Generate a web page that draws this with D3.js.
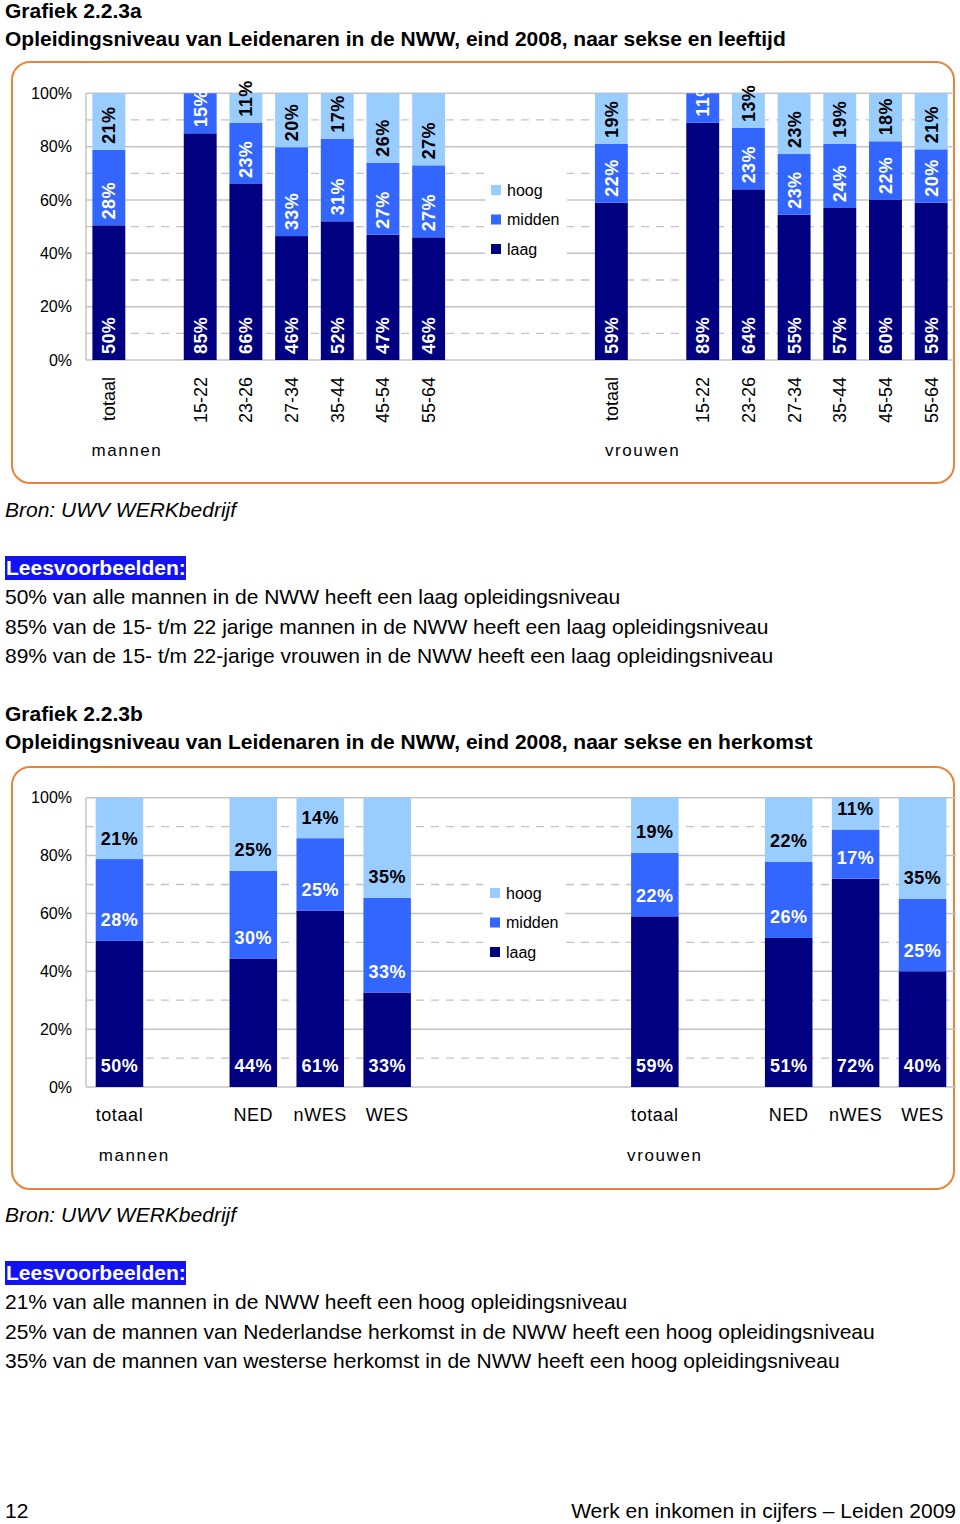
<!DOCTYPE html>
<html><head><meta charset="utf-8">
<script src="https://cdn.jsdelivr.net/npm/d3@7/dist/d3.min.js"></script>
<style>
body{margin:0;background:#fff}
svg{display:block}
text{font-family:"Liberation Sans",Arial,Helvetica,sans-serif}
</style>
</head><body>
<svg id="page" width="960" height="1524"></svg>
<script>
// ---------------- DATA ----------------
const levels = ["laag", "midden", "hoog"];
const legendOrder = ["hoog", "midden", "laag"];
const groups = ["mannen", "vrouwen"];

// Grafiek 2.2.3a : leeftijd
const ageCategories = ["totaal", "15-22", "23-26", "27-34", "35-44", "45-54", "55-64"];
const menLaagA    = [50, 85, 66, 46, 52, 47, 46];
const menMiddenA  = [28, 15, 23, 33, 31, 27, 27];
const menHoogA    = [21,  0, 11, 20, 17, 26, 27];
const womenLaagA   = [59, 89, 64, 55, 57, 60, 59];
const womenMiddenA = [22, 11, 23, 23, 24, 22, 20];
const womenHoogA   = [19,  0, 13, 23, 19, 18, 21];

// Grafiek 2.2.3b : herkomst
const originCategories = ["totaal", "NED", "nWES", "WES"];
const menLaagB    = [50, 44, 61, 33];
const menMiddenB  = [28, 30, 25, 33];
const menHoogB    = [21, 25, 14, 35];
const womenLaagB   = [59, 51, 72, 40];
const womenMiddenB = [22, 26, 17, 25];
const womenHoogB   = [19, 22, 11, 35];

const yTickValues = [0, 20, 40, 60, 80, 100];
const yTickLabels = ["0%", "20%", "40%", "60%", "80%", "100%"];
const yMinorValues = [10, 30, 50, 70, 90];

const titlesA = ["Grafiek 2.2.3a", "Opleidingsniveau van Leidenaren in de NWW, eind 2008, naar sekse en leeftijd"];
const titlesB = ["Grafiek 2.2.3b", "Opleidingsniveau van Leidenaren in de NWW, eind 2008, naar sekse en herkomst"];
const sourceText = "Bron: UWV WERKbedrijf";
const exampleHeader = "Leesvoorbeelden:";
const examplesA = [
  "50% van alle mannen in de NWW heeft een laag opleidingsniveau",
  "85% van de 15- t/m 22 jarige mannen in de NWW heeft een laag opleidingsniveau",
  "89% van de 15- t/m 22-jarige vrouwen in de NWW heeft een laag opleidingsniveau"
];
const examplesB = [
  "21% van alle mannen in de NWW heeft een hoog opleidingsniveau",
  "25% van de mannen van Nederlandse herkomst in de NWW heeft een hoog opleidingsniveau",
  "35% van de mannen van westerse herkomst in de NWW heeft een hoog opleidingsniveau"
];
const footerLeft = "12";
const footerRight = "Werk en inkomen in cijfers \u2013 Leiden 2009";

// ---------------- STYLE ----------------
const colors = {laag: "#000080", midden: "#3366FF", hoog: "#99CCFF"};
const labelColors = {laag: "#ffffff", midden: "#ffffff", hoog: "#000000"};
const orange = "#E8833A";
const gridColor = "#C4C4C4";

const svg = d3.select("#page");
svg.append("rect").attr("width", 960).attr("height", 1524).attr("fill", "#fff");

function rows(cats, laag, midden, hoog) {
  return cats.map((c, i) => ({cat: c, laag: laag[i], midden: midden[i], hoog: hoog[i]}));
}

function drawChart(cfg) {
  const g = svg.append("g");
  // panel
  g.append("rect").attr("x", cfg.panel[0]).attr("y", cfg.panel[1])
    .attr("width", cfg.panel[2]).attr("height", cfg.panel[3])
    .attr("rx", 18).attr("ry", 18)
    .attr("fill", "none").attr("stroke", orange).attr("stroke-width", 2);

  // slot domain with gaps
  const domain = [];
  cfg.groupsData.forEach((gd, gi) => {
    gd.rows.forEach((r, i) => {
      domain.push(gd.name + "|" + r.cat);
      if (i === 0) domain.push("gap|" + gd.name + "|a");
    });
    if (gi < cfg.groupsData.length - 1) {
      for (let k = 0; k < cfg.midGaps; k++) domain.push("gap|mid|" + k);
    }
  });

  const x = d3.scaleBand().domain(domain).range([cfg.left, cfg.right])
    .paddingInner(cfg.padInner).paddingOuter(cfg.padInner / 2);
  const y = d3.scaleLinear().domain([0, 1]).range([cfg.bottom, cfg.top]);

  // gridlines
  g.append("g").selectAll("line").data(yMinorValues).join("line")
    .attr("x1", cfg.left).attr("x2", cfg.right)
    .attr("y1", d => y(d / 100)).attr("y2", d => y(d / 100))
    .attr("stroke", gridColor).attr("stroke-width", 1.3).attr("stroke-dasharray", "8,7");
  g.append("g").selectAll("line").data(yTickValues).join("line")
    .attr("x1", cfg.left).attr("x2", cfg.right)
    .attr("y1", d => y(d / 100)).attr("y2", d => y(d / 100))
    .attr("stroke", gridColor).attr("stroke-width", 1.5);
  g.append("line").attr("x1", cfg.left).attr("x2", cfg.left)
    .attr("y1", cfg.top).attr("y2", cfg.bottom)
    .attr("stroke", gridColor).attr("stroke-width", 1.5);

  // legend (white box hides gridlines)
  const lg = g.append("g");
  lg.append("rect").attr("x", cfg.legendBox[0]).attr("y", cfg.legendBox[1])
    .attr("width", cfg.legendBox[2]).attr("height", cfg.legendBox[3]).attr("fill", "#fff");
  legendOrder.forEach((lv, i) => {
    const cy = cfg.legendY + i * 29.5;
    lg.append("rect").attr("x", cfg.legendX).attr("y", cy - 5).attr("width", 10).attr("height", 10)
      .attr("fill", colors[lv]);
    lg.append("text").attr("x", cfg.legendX + 16).attr("y", cy).attr("dy", "0.35em")
      .attr("font-size", 16).attr("fill", "#000").text(lv);
  });

  // y axis labels
  const yAxis = d3.axisLeft(d3.scaleLinear().domain([0, 100]).range([cfg.bottom, cfg.top]))
    .tickValues(yTickValues).tickFormat((d, i) => yTickLabels[i]).tickSize(0).tickPadding(14);
  const ya = g.append("g").attr("transform", `translate(${cfg.left},0)`).call(yAxis);
  ya.select(".domain").remove();
  ya.selectAll("text").attr("font-size", 16).attr("fill", "#000")
    .attr("font-family", '"Liberation Sans",Arial,sans-serif');

  // clip for midden labels (plot area)
  const clipId = "clip" + cfg.id;
  svg.append("defs").append("clipPath").attr("id", clipId)
    .append("rect").attr("x", cfg.left).attr("y", cfg.top - 3.5)
    .attr("width", cfg.right - cfg.left).attr("height", cfg.bottom - cfg.top + 40);

  const stack = d3.stack().keys(levels).offset(d3.stackOffsetExpand);

  cfg.groupsData.forEach((gd, gi) => {
    const series = stack(gd.rows);
    const key = r => gd.name + "|" + r.cat;
    // bars
    series.forEach(s => {
      g.append("g").attr("fill", colors[s.key]).selectAll("rect").data(s).join("rect")
        .attr("x", d => x(key(d.data)))
        .attr("width", x.bandwidth())
        .attr("y", d => y(d[1]))
        .attr("height", d => Math.max(0, y(d[0]) - y(d[1])));
    });
    // labels
    series.forEach(s => {
      const lgp = g.append("g");
      if (s.key === "midden") lgp.attr("clip-path", `url(#${clipId})`);
      const items = s.filter(d => d.data[s.key] > 0);
      const t = lgp.selectAll("text").data(items).join("text")
        .attr("font-size", 18).attr("font-weight", "bold")
        .attr("fill", labelColors[s.key])
        .text(d => d.data[s.key] + "%");
      if (cfg.rotated) {
        t.attr("transform", d => `translate(${x(key(d.data)) + x.bandwidth() / 2},${y(d[0]) - 6}) rotate(-90)`)
          .attr("text-anchor", "start").attr("dy", "0.36em").attr("letter-spacing", 0.4);
      } else {
        t.attr("x", d => x(key(d.data)) + x.bandwidth() / 2)
          .attr("y", d => y(d[0]) - 21).attr("dy", "0.36em")
          .attr("text-anchor", "middle").attr("letter-spacing", 0.5);
      }
    });
    // category labels
    const xa = d3.axisBottom(x).tickValues(gd.rows.map(key))
      .tickFormat(k => k.split("|")[1]).tickSize(0).tickPadding(0);
    const xg = g.append("g").attr("transform", `translate(0,${cfg.bottom})`).call(xa);
    xg.select(".domain").remove();
    const xt = xg.selectAll("text").attr("font-size", 18).attr("fill", "#000")
      .attr("font-family", '"Liberation Sans",Arial,sans-serif');
    if (cfg.rotated) {
      xt.attr("transform", `translate(0,${cfg.catOffset}) rotate(-90)`)
        .attr("text-anchor", "end").attr("y", 0).attr("dy", "0.36em");
    } else {
      xt.attr("y", cfg.catOffset).attr("dy", "0.36em").attr("letter-spacing", 0.6);
    }
    // group label
    g.append("text").attr("x", x(key(gd.rows[0])) + cfg.groupShift[gi])
      .attr("y", cfg.groupY).attr("dy", "0.36em")
      .attr("font-size", 17).attr("letter-spacing", 1.6).attr("fill", "#000")
      .text(gd.name);
  });
}

function textBlock(titles, titleY, srcY, exY, examples) {
  svg.append("text").attr("x", 5).attr("y", titleY).attr("font-size", 21).attr("font-weight", "bold").text(titles[0]);
  svg.append("text").attr("x", 5).attr("y", titleY + 28).attr("font-size", 21).attr("font-weight", "bold").text(titles[1]);
  svg.append("text").attr("x", 5).attr("y", srcY).attr("font-size", 21).attr("font-style", "italic").text(sourceText);
  svg.append("rect").attr("x", 5).attr("y", exY - 19).attr("width", 181).attr("height", 24).attr("fill", "#1212F2");
  svg.append("text").attr("x", 6).attr("y", exY).attr("font-size", 21).attr("font-weight", "bold")
    .attr("fill", "#fff").text(exampleHeader);
  examples.forEach((e, i) => {
    svg.append("text").attr("x", 5).attr("y", exY + 29.3 * (i + 1)).attr("font-size", 21).text(e);
  });
}

textBlock(titlesA, 18, 517, 575, examplesA);
textBlock(titlesB, 721, 1222, 1280, examplesB);

drawChart({
  id: "A", rotated: true,
  panel: [12, 62, 942, 421],
  left: 86, right: 954, top: 93.3, bottom: 360, padInner: 0.28, midGaps: 3,
  groupsData: [
    {name: groups[0], rows: rows(ageCategories, menLaagA, menMiddenA, menHoogA)},
    {name: groups[1], rows: rows(ageCategories, womenLaagA, womenMiddenA, womenHoogA)}
  ],
  legendBox: [485, 166, 82, 97], legendX: 491, legendY: 190,
  catOffset: 17, groupY: 450, groupShift: [-1, 10]
});

drawChart({
  id: "B", rotated: false,
  panel: [12, 767, 942, 422],
  left: 86, right: 956, top: 797.7, bottom: 1087, padInner: 0.29, midGaps: 3,
  groupsData: [
    {name: groups[0], rows: rows(originCategories, menLaagB, menMiddenB, menHoogB)},
    {name: groups[1], rows: rows(originCategories, womenLaagB, womenMiddenB, womenHoogB)}
  ],
  legendBox: [483, 874, 82, 92], legendX: 490, legendY: 893,
  catOffset: 28, groupY: 1155, groupShift: [3, -4]
});

svg.append("text").attr("x", 5).attr("y", 1518).attr("font-size", 21).text(footerLeft);
svg.append("text").attr("x", 956).attr("y", 1518).attr("font-size", 21).attr("text-anchor", "end").text(footerRight);
</script>
</body></html>
